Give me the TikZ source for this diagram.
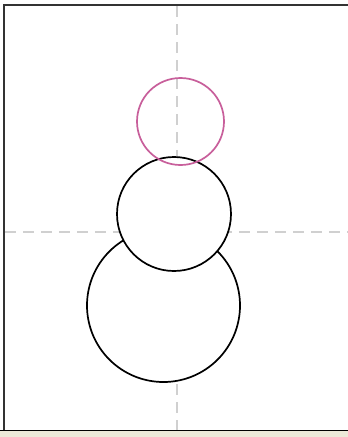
\documentclass[tikz,border=0pt]{standalone}
\usepackage{tikz}
\usetikzlibrary{positioning}
\definecolor{guidec}{RGB}{208,208,208}
\definecolor{headc}{RGB}{200,95,155}
\definecolor{panelc}{RGB}{236,233,216}

\begin{document}
\begin{tikzpicture}[x=1pt,y=-1pt,
    guide/.style={guidec,line width=1.2pt,dash pattern=on 11pt off 7pt},
    ball/.style={circle,draw=black,fill=white,line width=1.7pt,inner sep=0pt},
    headball/.style={circle,draw=headc,line width=1.7pt,inner sep=0pt}]
			\useasboundingbox (0,0) rectangle (348,437);
			% page and frame
			\fill[white] (0,0) rectangle (348,437);
			\fill[panelc] (0,431) rectangle (348,437);
			\draw[black!80,line width=2.2pt] (4,430) -- (4,5) -- (348,5);
			\draw[black,line width=1.5pt] (0,430.5) -- (348,430.5);
			% guides
			\draw[guide] (177,6) -- (177,430);
			\draw[guide] (5,232) -- (348,232);
			% snowman
			\node[ball,minimum size=153pt] (base) at (163.5,305.5) {};
			\node[ball,minimum size=114pt] (body) at (174,214) {};
			\node[headball,minimum size=87pt] (head) at (180.5,121.5) {};
		\end{tikzpicture}
\end{document}
